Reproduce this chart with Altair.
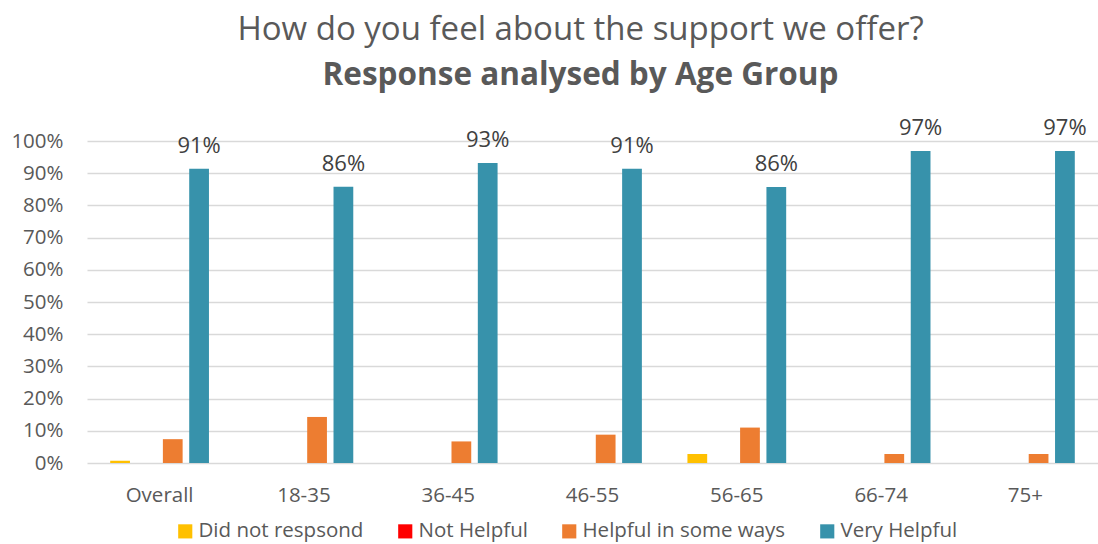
import altair as alt
import pandas as pd

groups = ["Overall", "18-35", "36-45", "46-55", "56-65", "66-74", "75+"]
series = ["Did not respsond", "Not Helpful", "Helpful in some ways", "Very Helpful"]
colors = ["#FFC000", "#FF0000", "#ED7D31", "#3792AB"]

did_not_respond = [0.7, 0, 0, 0, 2.8, 0, 0]
not_helpful = [0, 0, 0, 0, 0, 0, 0]
helpful_some = [7.4, 14.3, 6.7, 8.8, 11.0, 2.8, 2.8]
very_helpful = [91.4, 85.8, 93.2, 91.4, 85.7, 96.9, 96.9]
very_labels = ["91%", "86%", "93%", "91%", "86%", "97%", "97%"]

rows = []
for s, vals in zip(series, [did_not_respond, not_helpful, helpful_some, very_helpful]):
    for i, g in enumerate(groups):
        rows.append({"group": g, "series": s, "value": vals[i],
                     "label": very_labels[i] if s == "Very Helpful" else ""})
df = pd.DataFrame(rows)

FS = 20.5

x = alt.X("group:N", sort=groups, title=None,
          scale=alt.Scale(paddingInner=0.27, paddingOuter=0.138),
          axis=alt.Axis(labelAngle=0, labelFontSize=FS, labelColor="#595959",
                        labelPadding=22, ticks=False, domain=False, grid=False,
                        labelFont="Open Sans"))
xo = alt.XOffset("series:N", sort=series,
                 scale=alt.Scale(paddingInner=0.25, paddingOuter=0.125))
y = alt.Y("value:Q", title=None,
          scale=alt.Scale(domain=[0, 100], nice=False),
          axis=alt.Axis(values=list(range(0, 101, 10)), labelExpr="datum.value + '%'",
                        labelFontSize=FS, labelColor="#595959", labelPadding=24,
                        ticks=False, domain=False, gridColor="#D9D9D9", gridWidth=1.5,
                        labelFont="Open Sans"))

bars = alt.Chart(df).mark_bar().encode(
    x=x, xOffset=xo, y=y,
    color=alt.Color("series:N", sort=series,
                    scale=alt.Scale(domain=series, range=colors),
                    legend=alt.Legend(title=None, orient="none", direction="horizontal",
                                      legendX=88, legendY=380, symbolType="square",
                                      symbolSize=200, symbolStrokeWidth=0,
                                      labelFontSize=FS, labelColor="#595959",
                                      labelFont="Open Sans", columnPadding=31,
                                      labelOffset=3, padding=0, labelLimit=0)),
)

labels = alt.Chart(df).transform_filter(alt.datum.series == "Very Helpful").mark_text(
    dy=-16, baseline="alphabetic", fontSize=22, color="#404040", font="Open Sans"
).encode(x=x, xOffset=xo, y=y, text="label:N")

chart = alt.layer(bars, labels).properties(
    width=1011, height=322,
    autosize=alt.AutoSizeParams(type="none"),
    padding={"left": 87, "top": 141, "right": 0, "bottom": 81},
    title=alt.TitleParams(
        text="How do you feel about the support we offer?",
        subtitle="Response analysed by Age Group",
        anchor="middle", dx=-12, offset=25,
        font="Open Sans", fontSize=33, fontWeight="normal", color="#595959",
        subtitleFont="Open Sans", subtitleFontSize=31.5, subtitleFontWeight="bold",
        subtitleColor="#595959", subtitlePadding=13,
    ),
).configure_view(stroke=None)

chart.save("out.html", embed_options={"renderer": "svg", "actions": False})
